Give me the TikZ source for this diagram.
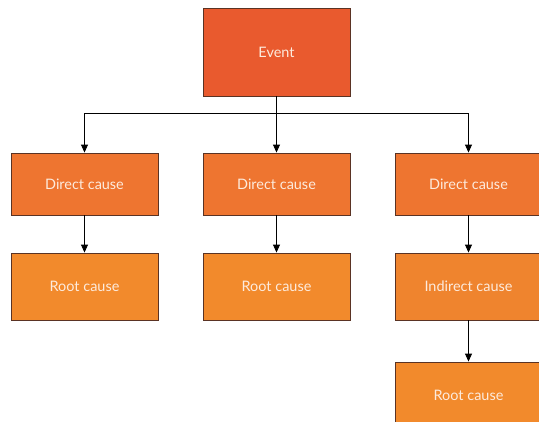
\documentclass[tikz,border=0pt]{standalone}
\usepackage{fontspec}
\setmainfont{Lato}
\usetikzlibrary{arrows.meta}
\definecolor{evc}{HTML}{E95A2E}
\definecolor{dcc}{HTML}{EE7530}
\definecolor{rcc}{HTML}{F28A2C}
\definecolor{icc}{HTML}{EF842E}
\definecolor{bord}{HTML}{5A3324}
\definecolor{txt}{HTML}{FDEBDD}
\tikzset{
  box/.style={draw=bord, line width=0.9bp, minimum width=147bp, inner sep=0pt,
    text=txt, font=\fontsize{14.5}{17}\selectfont},
  conn/.style={line width=0.9bp, -{Triangle[width=7bp,length=8bp]}},
  plain/.style={line width=0.9bp}
}
\begin{document}
\begin{tikzpicture}[x=1bp,y=-1bp]
\useasboundingbox (0,0) rectangle (539,421);
\begin{scope}
\clip (0,0) rectangle (539,421);
\node[box, fill=evc, minimum height=88bp] (ev) at (276.5,52) {Event};
\node[box, fill=dcc, minimum height=62bp] (d1) at (84.5,184) {Direct cause};
\node[box, fill=dcc, minimum height=62bp] (d2) at (276.5,184) {Direct cause};
\node[box, fill=dcc, minimum height=62bp] (d3) at (468.5,184) {Direct cause};
\node[box, fill=rcc, minimum height=67bp] (r1) at (84.5,286.5) {Root cause};
\node[box, fill=rcc, minimum height=67bp] (r2) at (276.5,286.5) {Root cause};
\node[box, fill=icc, minimum height=67bp] (i3) at (468.5,286.5) {Indirect cause};
\node[box, fill=rcc, minimum height=67bp] (r3) at (468.5,395.5) {Root cause};
\coordinate (bus) at (276.5,113);
\draw[conn] (ev.south) -- (d2.north);
\draw[conn] (ev.south |- bus) -| (d1.north);
\draw[conn] (ev.south |- bus) -| (d3.north);
\draw[conn] (d1.south) -- (r1.north);
\draw[conn] (d2.south) -- (r2.north);
\draw[conn] (d3.south) -- (i3.north);
\draw[conn] (i3.south) -- (r3.north);
\end{scope}
\end{tikzpicture}
\end{document}
